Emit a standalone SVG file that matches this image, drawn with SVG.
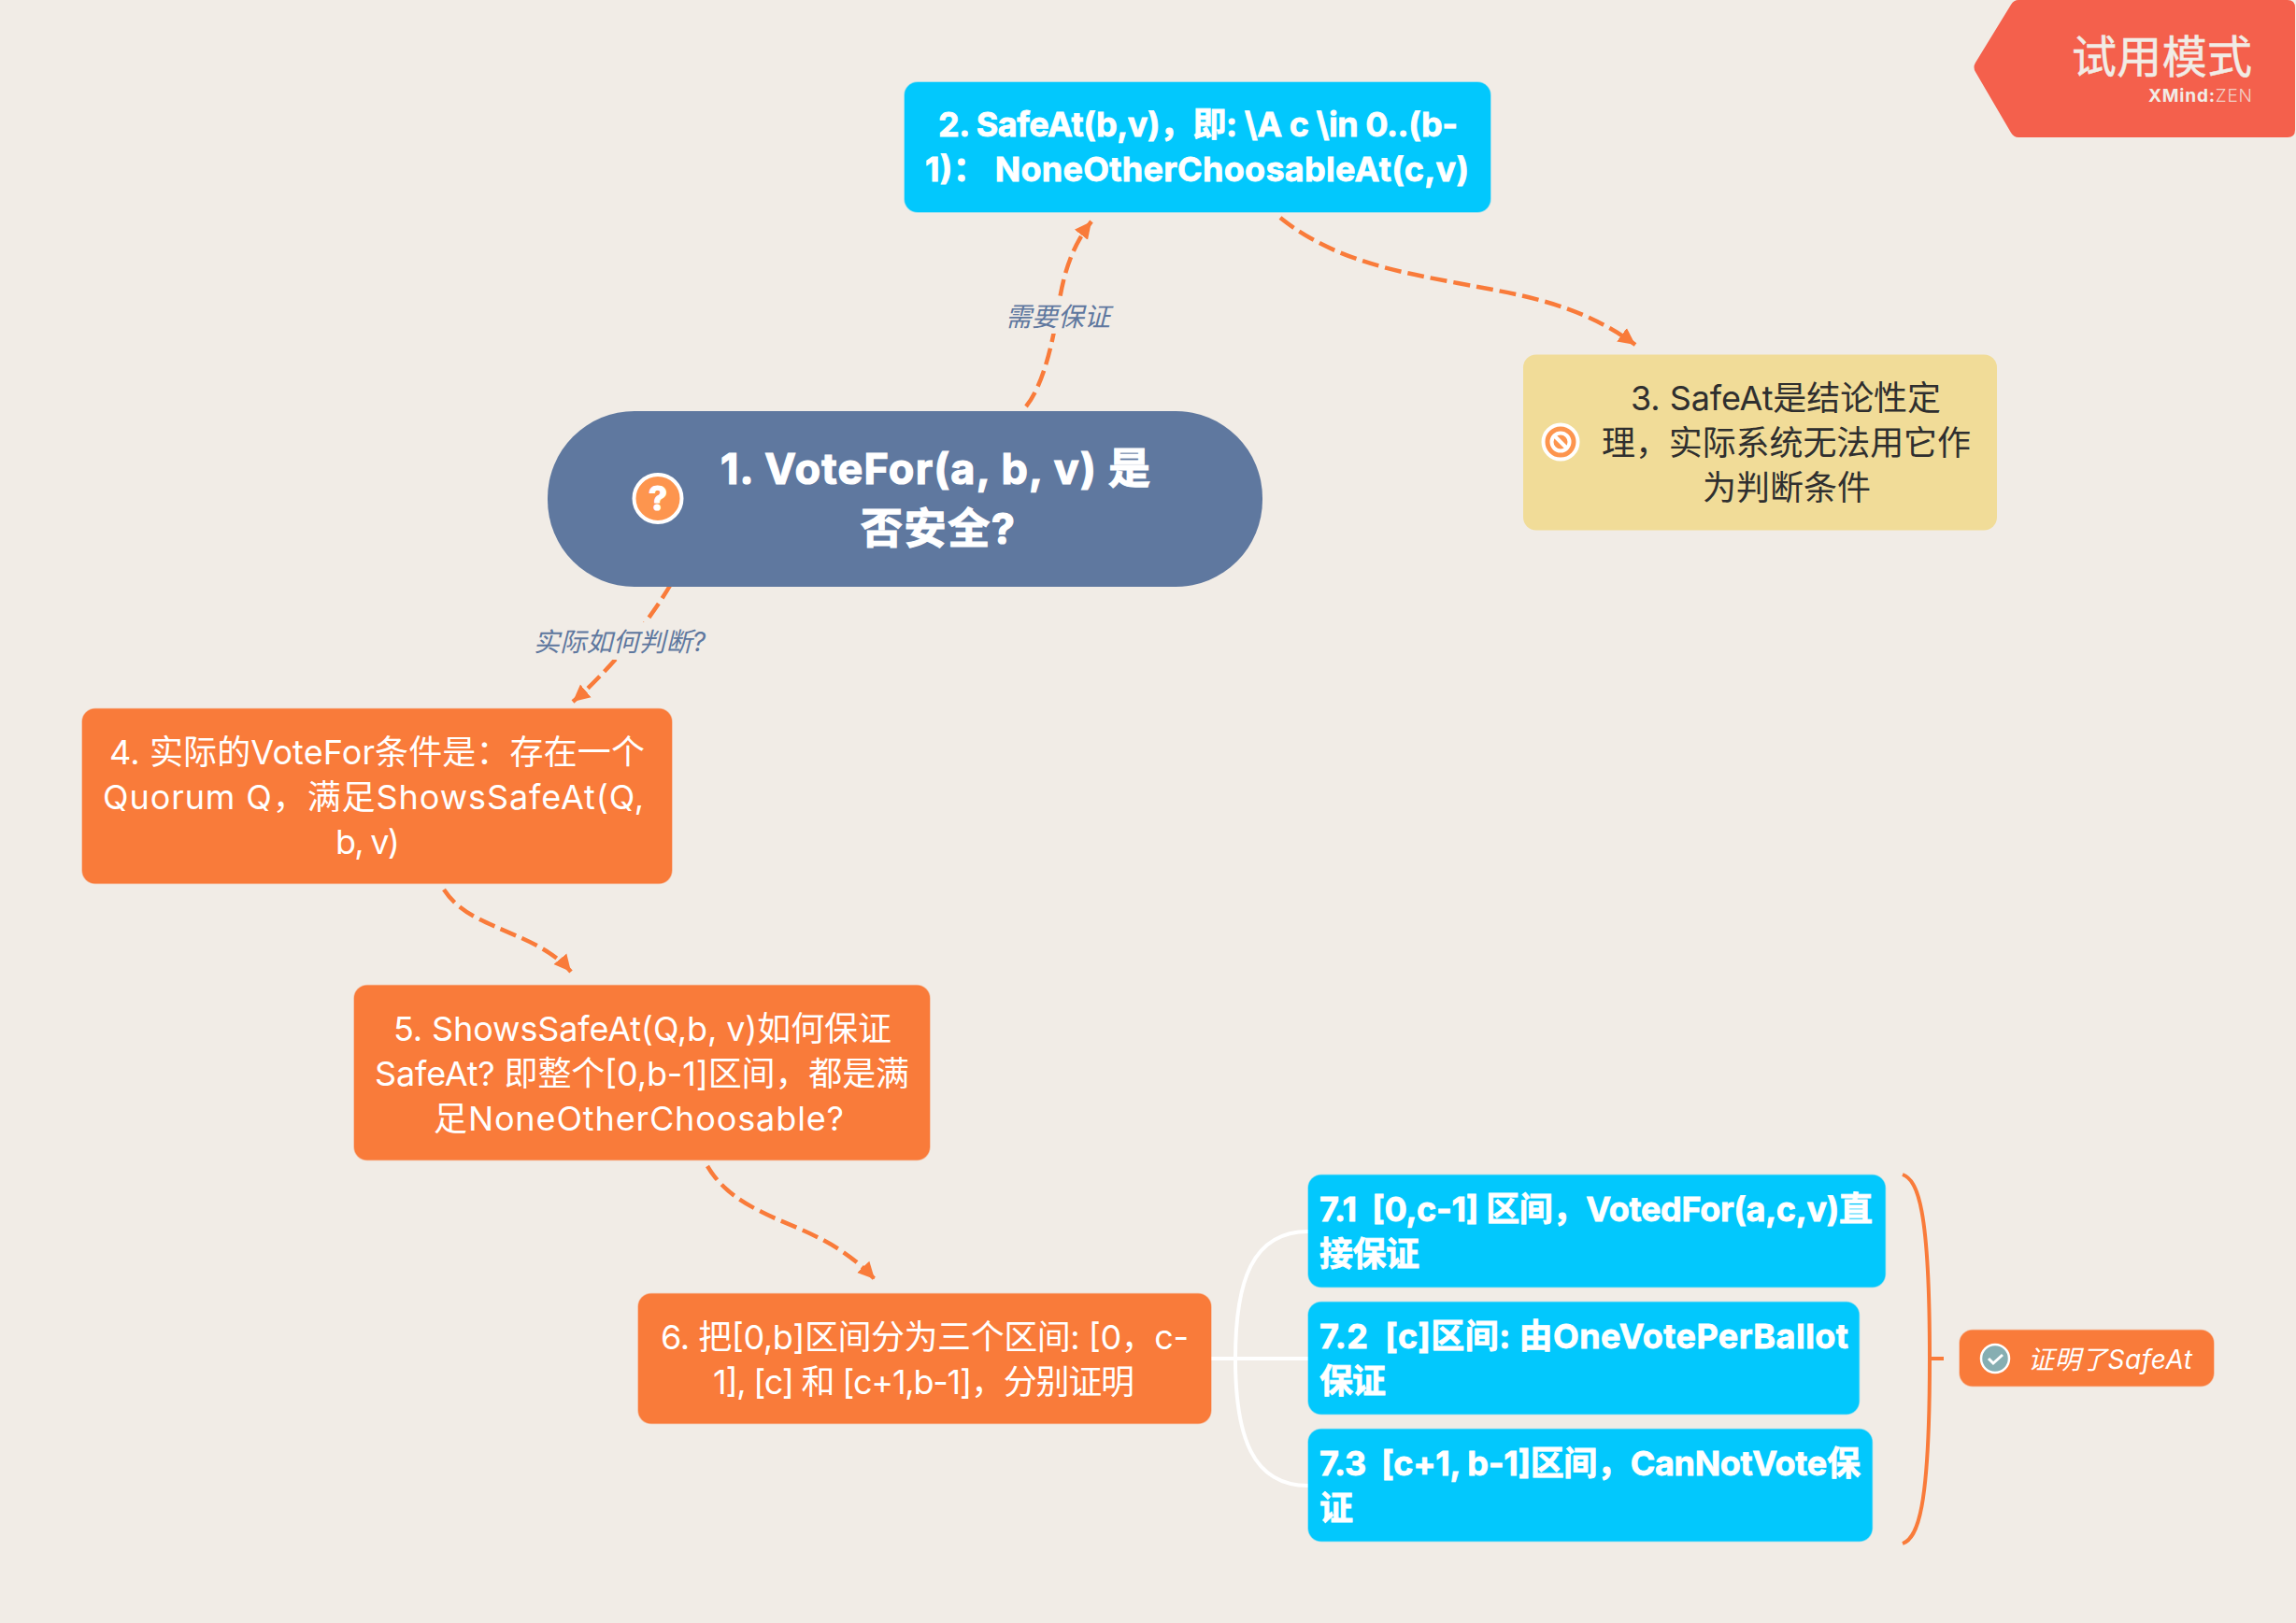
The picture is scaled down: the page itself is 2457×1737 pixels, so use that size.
<svg xmlns="http://www.w3.org/2000/svg" width="2457" height="1737" viewBox="0 0 2457 1737">
<style>
text{font-family:"Inter","Noto Sans CJK SC","Noto Sans",sans-serif;font-size:36px;white-space:pre}
.w{fill:#fff}.d{fill:#2f2f2f}.b{font-weight:700;stroke:#fff;stroke-width:.8}
.lab{font-size:28px;font-style:italic;fill:#5f789f}
.cyan{fill:#02c8fd;stroke:#02c8fd;stroke-opacity:.4;stroke-width:1.500}
.org{fill:#f97b3a;stroke:#f97b3a;stroke-opacity:.4;stroke-width:1.500}
.rel{fill:none;stroke:#f97b3a;stroke-width:4.500;stroke-dasharray:18 7;marker-end:url(#arr)}
.br{fill:none;stroke:#fff;stroke-width:4}
</style>
<defs>
<marker id="arr" markerUnits="userSpaceOnUse" markerWidth="26" markerHeight="24" refX="18" refY="10" orient="auto" viewBox="0 0 26 20"><path d="M0,1 L18,10 L0,19 Z" fill="#f97b3a"/></marker>
</defs>
<rect width="2457" height="1737" fill="#f1ece6"/>
<g id="connectors">
<path class="rel" d="M1098,435 C1118,410 1128,360 1134,320 C1140,285 1150,260 1168,237"/>
<path class="rel" d="M1370,233 C1425,277 1490,290 1560,303 C1630,316 1690,325 1750,369"/>
<path class="rel" d="M718,625 C695,665 650,720 613,751"/>
<path class="rel" d="M475,952 C490,975 515,985 533,993 C555,1003 590,1015 611,1040"/>
<path class="rel" d="M757,1248 C770,1270 790,1285 815,1297 C850,1315 895,1325 936,1369"/>
<path class="br" d="M1296,1454 H1400"/>
<path class="br" d="M1322,1454 C1322,1371 1340,1318 1400,1318"/>
<path class="br" d="M1322,1454 C1322,1537 1340,1590 1400,1590"/>
<path fill="none" stroke="#f97b3a" stroke-width="4" d="M2036,1257 C2052,1263 2065,1291 2065,1454 C2065,1617 2052,1646 2036,1652 M2065,1454 H2080"/>
<rect x="1079" y="322" width="112" height="35" fill="#f1ece6"/>
<text class="lab" x="1076" y="349" textLength="112">需要保证</text>
<rect x="574" y="666" width="184" height="40" fill="#f1ece6"/>
<text class="lab" x="571" y="697" textLength="184">实际如何判断?</text>
</g>
<g id="node-1">
<rect x="586" y="440" width="765" height="188" rx="93" fill="#5f789f"/>
<circle cx="704" cy="533.500" r="25.500" fill="#fd954e" stroke="#fff" stroke-width="4"/>
<text x="704" y="546" text-anchor="middle" class="w b" style="font-size:36px;stroke-width:1.2">?</text>
<text class="w b" style="font-size:45px;stroke-width:1.2" x="771" y="518" textLength="460">1. VoteFor(a, b, v) 是</text>
<text class="w b" style="font-size:45px;stroke-width:1.2" x="921" y="582" textLength="165">否安全?</text>
</g>
<g id="node-2">
<rect class="cyan" x="968" y="88" width="627" height="139" rx="14"/>
<text class="w b" x="1004" y="146" textLength="556">2. SafeAt(b,v)，即: \A c \in 0..(b-</text>
<text class="w b" x="990" y="194" textLength="582">1)： NoneOtherChoosableAt(c,v)</text>
</g>
<g id="node-3">
<rect x="1630" y="379.500" width="507" height="188" rx="14" fill="#f1dc98"/>
<circle cx="1670" cy="473" r="18.500" fill="#fd954e" stroke="#fff" stroke-width="4"/>
<circle cx="1670" cy="473" r="9.500" fill="none" stroke="#fff" stroke-width="4"/>
<path d="M1663,466 L1677,480" stroke="#fff" stroke-width="4"/>
<text class="d" x="1745" y="439" textLength="332">3. SafeAt是结论性定</text>
<text class="d" x="1714" y="487" textLength="395">理，实际系统无法用它作</text>
<text class="d" x="1822" y="535" textLength="180">为判断条件</text>
</g>
<g id="node-4">
<rect class="org" x="88" y="758.500" width="631" height="187" rx="14"/>
<text class="w" x="117" y="817.500" textLength="573">4. 实际的VoteFor条件是：存在一个</text>
<text class="w" x="110" y="865.500" textLength="579">Quorum Q，满足ShowsSafeAt(Q,</text>
<text class="w" x="359" y="913.500" textLength="69">b, v)</text>
</g>
<g id="node-5">
<rect class="org" x="379" y="1054.500" width="616" height="187" rx="14"/>
<text class="w" x="421" y="1113.500" textLength="533">5. ShowsSafeAt(Q,b, v)如何保证</text>
<text class="w" x="401" y="1161.500" textLength="572">SafeAt? 即整个[0,b-1]区间，都是满</text>
<text class="w" x="464" y="1209.500" textLength="439">足NoneOtherChoosable?</text>
</g>
<g id="node-6">
<rect class="org" x="683" y="1384.500" width="613" height="139" rx="14"/>
<text class="w" x="707" y="1443.500" textLength="565">6. 把[0,b]区间分为三个区间: [0，c-</text>
<text class="w" x="763" y="1491.500" textLength="451">1], [c] 和 [c+1,b-1]，分别证明</text>
</g>
<g id="node-7-1">
<rect class="cyan" x="1400" y="1257.500" width="617.500" height="120" rx="14"/>
<text class="w b" x="1412" y="1307" textLength="592">7.1  [0,c-1] 区间，VotedFor(a,c,v)直</text>
<text class="w b" x="1412" y="1355" textLength="107">接保证</text>
</g>
<g id="node-7-2">
<rect class="cyan" x="1400" y="1393.500" width="589.500" height="120" rx="14"/>
<text class="w b" x="1412" y="1443" textLength="566">7.2  [c]区间: 由OneVotePerBallot</text>
<text class="w b" x="1412" y="1491" textLength="71">保证</text>
</g>
<g id="node-7-3">
<rect class="cyan" x="1400" y="1529.500" width="603.500" height="120" rx="14"/>
<text class="w b" x="1412" y="1579" textLength="579">7.3  [c+1, b-1]区间，CanNotVote保</text>
<text class="w b" x="1412" y="1627" textLength="35">证</text>
</g>
<g id="summary">
<rect class="org" x="2097" y="1423.500" width="272" height="60" rx="14"/>
<circle cx="2135" cy="1454" r="15" fill="#86aeb2" stroke="#fff" stroke-width="2.500"/>
<path d="M2128,1454 L2133,1459 L2143,1450" fill="none" stroke="#fff" stroke-width="3"/>
<text class="w" style="font-size:28px;font-style:italic" x="2170" y="1465" textLength="176">证明了SafeAt</text>
</g>
<g id="trial-badge">
<path d="M2160,0 H2448 Q2456,0 2456,8 V139 Q2456,147 2448,147 H2160 Q2155,147 2152,142 L2114,77 Q2111,72 2114,67 L2152,5 Q2155,0 2160,0 Z" fill="#f4604c"/>
<text style="font-size:48px;fill:#f1ece6;stroke:#f1ece6;stroke-width:.5" x="2217" y="78" textLength="193">试用模式</text>
<text style="font-size:19px;fill:#f1ece6" x="2299" y="109" textLength="111"><tspan font-weight="700">XMind:</tspan><tspan font-weight="300" fill-opacity=".8">ZEN</tspan></text>
</g>
</svg>
